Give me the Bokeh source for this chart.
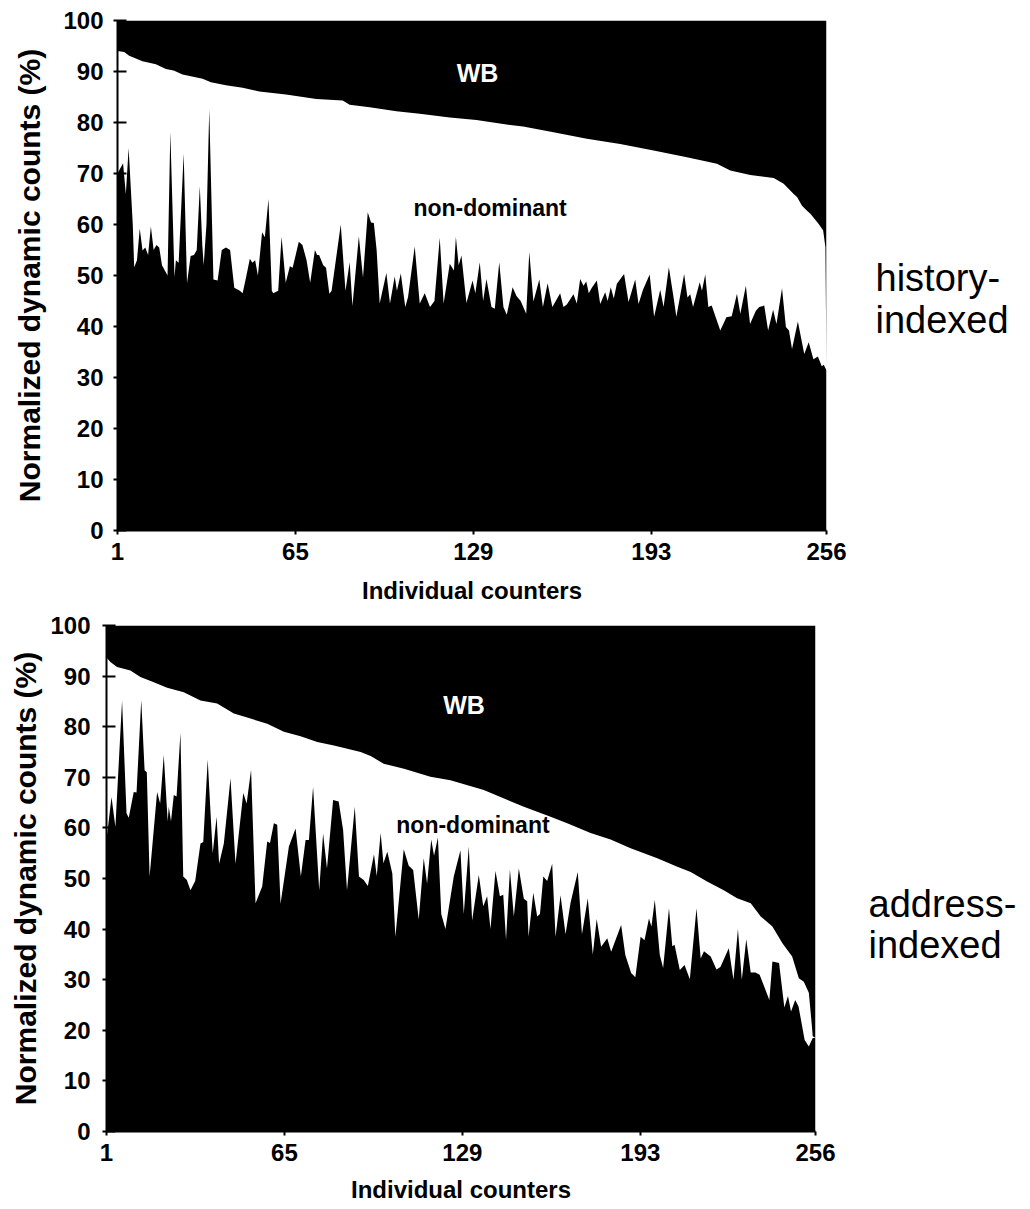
from bokeh.plotting import figure
from bokeh.models import Label, FixedTicker, Range1d
from bokeh.layouts import column, row
from bokeh.embed import file_html
from bokeh.resources import INLINE

# ---------------- data ----------------
x_ticks = [1, 65, 129, 193, 256]
y_ticks = [0, 10, 20, 30, 40, 50, 60, 70, 80, 90, 100]

# history-indexed: dominant share (vertices: counter, %)
hist_dom_x = [1, 3, 4, 5, 6.5, 7, 8, 9, 10, 11, 12, 13, 14, 15, 16, 17, 19, 20, 21.5, 22, 23,
              24.8, 26, 27.3, 28.5, 29.5, 30.6, 31.5, 32, 33, 34, 35.5, 37, 38.5, 40, 41.5, 43,
              45, 46, 47, 48.6, 49.5, 50.5, 51.5, 53, 54, 55.3, 56.5, 57, 58.8, 60, 61.5, 63, 64,
              66.2, 67.5, 69, 70.3, 72, 72.8, 73.5, 75, 76, 77.2, 78, 81.3, 83, 84.5, 85.5, 87.8,
              89.3, 91, 92.2, 93.2, 94.2, 95.3, 97.7, 99, 100.7, 101.5, 102.9, 104.5, 105.5,
              107.9, 109.7, 111.5, 113.4, 115, 116.9, 118.3, 120.5, 122, 122.7, 123.7, 124.7,
              126.5, 128.7, 129.7, 131.3, 132.5, 133.7, 135.5, 136.7, 138.3, 139.8, 141, 143.1,
              144.5, 146, 148, 149.1, 150.6, 152.7, 154, 155.7, 157.4, 160.2, 161.4, 162.6, 165,
              166.2, 167.4, 168.6, 169.6, 170.5, 171.6, 173.4, 174.6, 176.4, 177.3, 178.4, 179.5,
              180.6, 183.2, 184.8, 187.2, 188.4, 190, 192.4, 194, 196.2, 197.4, 199.3, 201, 202,
              204.8, 206, 207, 208, 210.4, 211.2, 212.4, 213.5, 214.7, 217.8, 220, 221.9, 223.8,
              225, 227, 228.5, 230.6, 231.8, 233.6, 235, 236.8, 238, 240, 241.4, 242.5, 243.6,
              245.7, 248, 249.6, 251.3, 252.9, 254.3, 255, 256]
hist_dom_y = [70, 72, 66, 75, 60, 51.6, 53, 59.2, 54.9, 55.5, 54, 59.6, 55, 56, 55.5, 52, 50, 78.2,
              49.7, 53, 52.5, 73.9, 48.5, 53.8, 54, 55, 67.5, 56, 52, 60, 82.6, 49.2, 49, 55, 55.5,
              55, 47.6, 47, 46.5, 49, 53.3, 52.5, 53, 50, 58.5, 57.5, 65, 47, 46.5, 47, 57.6, 48.6,
              51.8, 51.5, 56.6, 56, 53, 48.6, 55, 54, 54, 52, 51.5, 46.4, 47, 60, 47, 52.6, 44,
              57.7, 49.6, 62.4, 60.4, 60.3, 55, 44.5, 50.5, 44.5, 49.8, 47, 50.4, 43.8, 45.8, 55.7,
              44.5, 46.5, 43.8, 45, 57.4, 44.5, 52.3, 51, 57.6, 52, 53.9, 44.6, 49, 46.5, 52.6, 45,
              49.3, 43.8, 43.5, 52.6, 43.8, 42.3, 47.7, 46, 45, 42.5, 54.6, 44.9, 49.2, 43.8, 48.5,
              43.8, 46.5, 43.8, 44.3, 46.3, 44.5, 49.3, 48, 48.8, 46.5, 47.6, 49, 44.4, 46.7, 45,
              47.7, 45.5, 48.4, 50.3, 44.8, 49.2, 44.4, 47.2, 50.2, 41.9, 47.2, 43.8, 51.6, 45.7,
              41.9, 50.3, 45.7, 46.3, 43.8, 48.7, 47, 50.2, 43.8, 44.1, 39.2, 41.8, 42, 46.4, 42.5,
              48, 40.5, 43.1, 43.8, 44.1, 39.2, 43.3, 40.5, 47.5, 39.9, 39.2, 35.6, 41, 34.6, 36.9,
              33.6, 34.1, 32.2, 32.5, 31.4]
# history-indexed: dominant + non-dominant (upper edge of the white band)
hist_up_x = [1, 3.4, 5.2, 10, 14.8, 18.4, 21.2, 24.4, 31.6, 34.6, 40, 46, 52, 61.6, 72.5, 82, 84.5,
             91.7, 101.3, 109.7, 120.5, 130.1, 139.7, 146.9, 157.8, 169.8, 181.8, 193.8, 205.8,
             216.6, 221.4, 228.6, 237, 240.6, 244.2, 245.4, 247.2, 249, 250.2, 253.2, 254.8,
             255.6, 256]
hist_up_y = [94, 93.8, 93.1, 92, 91.4, 90.5, 90.2, 89.4, 88.6, 87.9, 87.3, 86.8, 86.1, 85.5, 84.6,
             84.3, 83.5, 83, 82.2, 81.7, 81, 80.5, 79.7, 79.2, 78.1, 76.8, 75.8, 74.5, 73.2, 71.9,
             70.6, 69.7, 69.1, 68, 66, 65.4, 63.7, 62.7, 62.1, 60.1, 58.8, 55.6, 31.4]

# address-indexed: dominant share
addr_dom_x = [1, 2.8, 4.2, 6.6, 8.2, 9, 10.8, 11.8, 13.5, 14.7, 15.5, 16.5, 19.2, 20.3, 21.6, 23,
              23.4, 24.2, 25.2, 26.2, 27.6, 28.6, 29.9, 31.2, 32.9, 34.8, 35.8, 37.4, 39.2, 40.6,
              41.5, 43.2, 45.6, 47.4, 50.2, 51.4, 53, 54.6, 57, 58.8, 59.8, 61.2, 62.4, 63.6, 66.6,
              69, 70.9, 72.6, 73.8, 75.3, 77.5, 78.9, 80.3, 82.5, 84.5, 86.1, 87.5, 90.3, 91.8,
              93.5, 95, 97.2, 98.2, 99.6, 100.6, 102, 103.8, 104.9, 107.9, 109.7, 111.3, 113.3,
              115.1, 116.3, 117.8, 118.8, 120.2, 121.4, 122.9, 125.9, 128.3, 129.5, 131.3, 132.5,
              134.9, 136.5, 137.9, 139.1, 140.9, 142.5, 143.7, 144.7, 146.1, 147.5, 149.3, 151.1,
              152.3, 152.8, 154.5, 155.9, 156.9, 158.1, 159.5, 161.3, 162.5, 164.3, 166.1, 167.9,
              170.5, 172, 174.1, 175.9, 177.3, 178.9, 181.1, 182.5, 186.1, 187.6, 189.7, 191.2,
              193.1, 194.5, 196.1, 197, 198.2, 200, 201.2, 203.3, 204.5, 205.3, 207.2, 208.9,
              210.8, 213.2, 214.7, 215.9, 218.3, 220.4, 221.8, 224.8, 226.5, 228.1, 229.5, 231.1,
              232.7, 234.4, 235.9, 239.4, 240.5, 242.9, 244.8, 246.1, 247.2, 248.7, 249.9, 252.1,
              253.6, 255, 256]
addr_dom_y = [57.6, 66.1, 60.2, 85.2, 62.9, 62, 67.1, 67, 85.3, 71.4, 71, 50.4, 67.1, 64.8, 74.4,
              61.3, 64.2, 61.3, 66.5, 66.2, 78.8, 50.4, 49.7, 47.7, 49.5, 56.9, 57.2, 73.5, 55,
              62.2, 52.9, 56.9, 69.8, 52.9, 66.9, 64.8, 71.5, 45.1, 48.4, 57.3, 57, 60.9, 60.6, 45,
              56.3, 59.9, 50.4, 57.6, 57.6, 68.1, 47.7, 58.9, 52, 65.5, 65.2, 59.6, 47.7, 64.2,
              50.4, 49.7, 48.5, 54.8, 50.5, 59, 53, 55.3, 51, 38.5, 55.8, 52.5, 51.7, 41.9, 54, 49,
              57.7, 54.5, 58.1, 43, 40, 50.4, 55.6, 43, 56.3, 41.7, 50.7, 44.5, 46.5, 40, 51.5,
              46.5, 46.8, 37.9, 51.8, 42.5, 52, 46, 45.5, 38.5, 47.2, 42.5, 43, 50.4, 49.5, 52.9,
              38.5, 46.7, 39, 45.2, 51.3, 39, 46.1, 35, 42, 36.5, 38.2, 35.5, 40.8, 34.9, 31.3,
              30.5, 38.5, 37.8, 42.1, 40.5, 45.8, 34.9, 32.3, 44.1, 36.6, 36.9, 31.9, 32.9, 30.1,
              44.1, 34.2, 35.6, 34.6, 32, 32.5, 36.2, 30, 40, 30, 38, 31.4, 31.4, 31, 26, 33.6,
              33.3, 24.5, 26.8, 23.7, 26, 24.7, 18.1, 16.8, 18.5, 18.5]
# address-indexed: dominant + non-dominant
addr_up_x = [1, 2.4, 4.8, 9.6, 13.2, 18, 22.8, 28.8, 34.8, 40.8, 46.8, 52.8, 58.8, 64.8, 70.8,
             76.8, 82.8, 92.4, 96, 100.7, 108, 117.5, 124.7, 136.7, 142.7, 151.1, 160.7, 166.7,
             175.1, 182.3, 189.5, 199.1, 206.3, 211.1, 217, 223, 227.8, 232.7, 236.3, 240.5,
             244.1, 247.6, 250, 251.8, 253.6, 254.5, 255, 256]
addr_up_y = [93.7, 92.8, 91.8, 91.1, 89.8, 88.8, 87.7, 86.8, 85.2, 84.6, 82.6, 81.6, 80.6, 79,
             78.1, 77, 76.3, 75, 74.2, 72.7, 71.7, 70.1, 69.4, 67.5, 66.1, 64.2, 62.2, 60.9, 59,
             57.7, 56, 54, 52.3, 51.3, 49.4, 47.7, 46.1, 45.1, 42.5, 40.5, 37.2, 34.6, 30.3, 29.6,
             27.4, 22.1, 18.8, 18.5]

FONT = "Liberation Sans"


def make_chart(dom_x, dom_y, up_x, up_y, wb_pos, nd_pos, width, height,
               border_left, border_right, border_top, border_bottom,
               tick_standoff, label_standoff, xlabel_standoff):
    p = figure(width=width, height=height, output_backend="svg", toolbar_location=None,
               x_range=Range1d(1, 256), y_range=Range1d(0, 100),
               min_border_left=border_left, min_border_right=border_right,
               min_border_top=border_top, min_border_bottom=border_bottom)
    p.outline_line_color = None
    p.grid.visible = False
    p.background_fill_color = "white"
    p.border_fill_color = "white"

    # dominant (bottom, black)
    p.varea(x=dom_x, y1=[0] * len(dom_x), y2=dom_y, fill_color="black", fill_alpha=1)
    # WB (top, black) above dominant + non-dominant
    p.varea(x=up_x, y1=up_y, y2=[100] * len(up_x), fill_color="black", fill_alpha=1)

    p.xaxis.ticker = FixedTicker(ticks=x_ticks)
    p.yaxis.ticker = FixedTicker(ticks=y_ticks)
    for ax in (p.xaxis[0], p.yaxis[0]):
        ax.axis_line_color = "black"
        ax.axis_line_width = 2
        ax.major_tick_line_color = "black"
        ax.major_tick_line_width = 2
        ax.minor_tick_line_color = None
        ax.major_label_text_font = FONT
        ax.major_label_text_font_style = "bold"
        ax.major_label_text_font_size = "24px"
        ax.major_label_text_color = "black"
        ax.axis_label_text_font = FONT
        ax.axis_label_text_font_style = "bold"
        ax.axis_label_text_color = "black"
    p.yaxis.major_tick_in = 9
    p.yaxis.major_tick_out = 4
    p.xaxis.major_tick_in = 0
    p.xaxis.major_tick_out = 4
    p.yaxis.axis_label = "Normalized dynamic counts (%)"
    p.yaxis.axis_label_text_font_size = "30px"
    p.yaxis.major_label_standoff = tick_standoff
    p.yaxis.axis_label_standoff = label_standoff
    p.xaxis.axis_label = "Individual counters"
    p.xaxis.axis_label_text_font_size = "24px"
    p.xaxis.major_label_standoff = 8
    p.xaxis.axis_label_standoff = xlabel_standoff

    p.add_layout(Label(x=wb_pos[0], y=wb_pos[1], text="WB", text_color="white",
                       text_font=FONT, text_font_style="bold", text_font_size="25px",
                       text_align="center", text_baseline="middle"))
    p.add_layout(Label(x=nd_pos[0], y=nd_pos[1], text="non-dominant", text_color="black",
                       text_font=FONT, text_font_style="bold", text_font_size="23px",
                       text_align="center", text_baseline="middle"))
    return p


def make_side(lines, left, baselines, width, height):
    # the side panel's frame is aligned with its neighbour chart's frame,
    # so its y range is expressed in that chart's value units (0-100)
    s = figure(width=width, height=height, output_backend="svg", toolbar_location=None,
               x_range=Range1d(0, width), y_range=Range1d(0, 100),
               min_border_left=0, min_border_right=0, min_border_top=0, min_border_bottom=0)
    s.axis.visible = False
    s.grid.visible = False
    s.outline_line_color = None
    for line, yy in zip(lines, baselines):
        s.add_layout(Label(x=left, y=yy, text=line, text_color="black",
                           text_font=FONT, text_font_size="38px",
                           text_align="left", text_baseline="alphabetic"))
    return s


CHART_W = 856
SIDE_W = 1030 - CHART_W

top = make_chart(hist_dom_x, hist_dom_y, hist_up_x, hist_up_y,
                 (130.5, 89.8), (135, 63.2), CHART_W, 612,
                 border_left=117, border_right=CHART_W - 826, border_top=20,
                 border_bottom=82, tick_standoff=10, label_standoff=14, xlabel_standoff=14)
# baselines (in the chart's % units) of the side caption lines
top_side = make_side(["history-", "indexed"], 875 - CHART_W, [49.6, 41.3], SIDE_W, 612)

bottom = make_chart(addr_dom_x, addr_dom_y, addr_up_x, addr_up_y,
                    (129.6, 84.2), (132.8, 60.5), CHART_W, 597,
                    border_left=106, border_right=CHART_W - 815, border_top=13,
                    border_bottom=78, tick_standoff=12, label_standoff=5, xlabel_standoff=12)
bottom_side = make_side(["address-", "indexed"], 868 - CHART_W, [44.9, 36.8], SIDE_W, 597)

layout = column(row(top, top_side, spacing=0), row(bottom, bottom_side, spacing=0), spacing=0)
open("out.html", "w").write(file_html(layout, INLINE))
